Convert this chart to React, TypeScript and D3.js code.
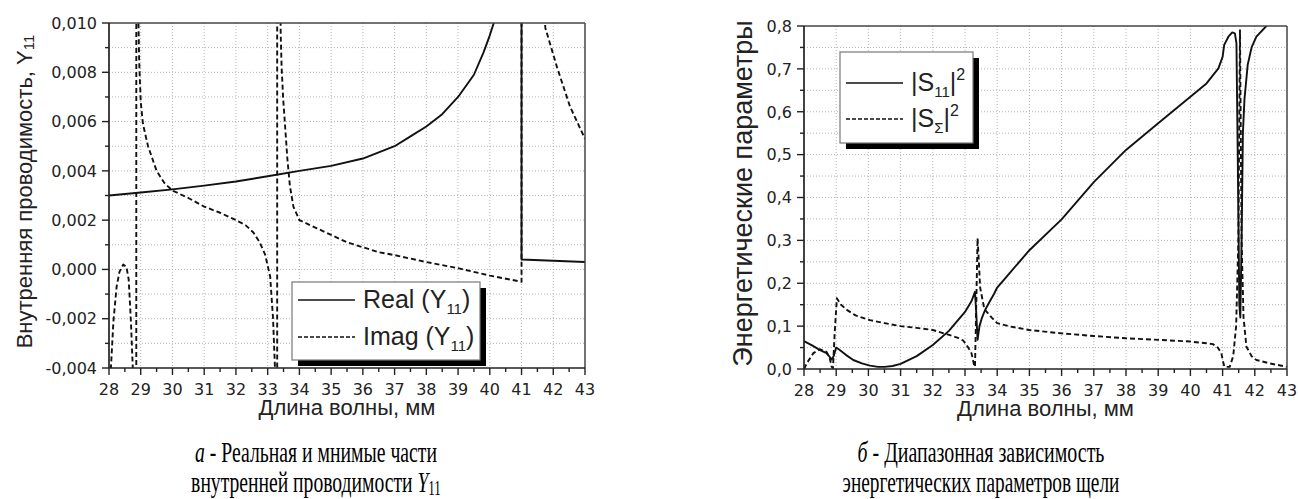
import React, { useEffect, useRef } from 'react';
import * as d3 from 'd3';

const W = 1298;
const H = 499;

// wavelength ticks, mm
const xTickValues = [28, 29, 30, 31, 32, 33, 34, 35, 36, 37, 38, 39, 40, 41, 42, 43];

// chart a: internal admittance Y11
const yTicksA = [-0.004, -0.002, 0, 0.002, 0.004, 0.006, 0.008, 0.01];
const realY11: [number, number][] = [
  [28, 0.003], [29, 0.00312], [30, 0.00325], [31, 0.0034], [32, 0.00357], [33, 0.00378],
  [34, 0.004], [35, 0.0042], [36, 0.0045], [37, 0.005], [37.5, 0.0054], [38, 0.0058],
  [38.5, 0.0063], [39, 0.007], [39.5, 0.0079], [39.8, 0.0088], [40, 0.0095], [40.2, 0.0103],
  [40.4, 0.0125], [41, 0.03], [41, 0.0004], [42, 0.00035], [43, 0.0003]
];
const imagY11: [number, number][] = [
  [28, -0.006], [28.06, -0.004], [28.14, -0.0021], [28.24, -0.0007], [28.33, -0.0001],
  [28.45, 0.0002], [28.55, 0.0001], [28.62, -0.0004], [28.69, -0.0021], [28.75, -0.004],
  [28.82, -0.008], [28.86, -0.03], [28.86, 0.03], [28.9, 0.012], [28.95, 0.0085],
  [29, 0.0068], [29.07, 0.0059], [29.23, 0.005], [29.5, 0.004], [29.75, 0.0035],
  [30, 0.0032], [30.5, 0.0029], [31, 0.00255], [31.5, 0.0023], [32, 0.002], [32.3, 0.0018],
  [32.55, 0.0015], [32.75, 0.0011], [32.92, 0.0006], [33.08, -0.0003], [33.17, -0.002],
  [33.23, -0.004], [33.28, -0.008], [33.3, -0.03], [33.3, 0.03], [33.38, 0.015],
  [33.41, 0.0096], [33.44, 0.0082], [33.49, 0.0069], [33.55, 0.0058], [33.62, 0.0045],
  [33.7, 0.0034], [33.81, 0.00255], [34, 0.002], [34.5, 0.0017], [35, 0.0014],
  [35.5, 0.0011], [36, 0.0009], [36.5, 0.0007], [37, 0.00058], [38, 0.0003],
  [39, 0.00005], [40, -0.00025], [41, -0.0005], [41, 0.03], [41.5, 0.015],
  [41.75, 0.0098], [42.12, 0.0082], [42.53, 0.0066], [43, 0.0053]
];

// chart b: energy parameters
const yTicksB = [0, 0.1, 0.2, 0.3, 0.4, 0.5, 0.6, 0.7, 0.8];
const s11: [number, number][] = [
  [28, 0.065], [28.25, 0.055], [28.5, 0.044], [28.7, 0.037], [28.8, 0.028], [28.86, 0.022],
  [28.92, 0.03], [29, 0.05], [29.1, 0.045], [29.3, 0.033], [29.53, 0.021], [29.8, 0.013],
  [30.05, 0.008], [30.3, 0.005], [30.5, 0.005], [30.75, 0.007], [31, 0.012], [31.5, 0.03],
  [32, 0.056], [32.5, 0.089], [33, 0.133], [33.2, 0.158], [33.31, 0.18], [33.35, 0.13],
  [33.39, 0.068], [33.45, 0.1], [33.52, 0.118], [33.62, 0.137], [33.75, 0.155], [33.9, 0.175],
  [34, 0.19], [34.4, 0.225], [35, 0.277], [36, 0.349], [37, 0.436], [38, 0.511],
  [39, 0.573], [40, 0.635], [40.5, 0.666], [40.87, 0.701], [41, 0.728], [41.05, 0.756],
  [41.18, 0.775], [41.3, 0.785], [41.38, 0.783], [41.43, 0.76], [41.47, 0.5], [41.52, 0.15],
  [41.55, 0.12], [41.59, 0.3], [41.63, 0.55], [41.68, 0.63], [41.78, 0.71], [41.9, 0.75],
  [42.05, 0.775], [42.36, 0.8], [42.7, 0.84]
];
const sSigma: [number, number][] = [
  [28, 0], [28.1, 0.015], [28.29, 0.037], [28.5, 0.046], [28.7, 0.04], [28.8, 0.025],
  [28.86, 0.005], [28.9, 0.002], [28.95, 0.08], [29.02, 0.165], [29.15, 0.15], [29.33, 0.138],
  [29.6, 0.125], [30.05, 0.114], [30.5, 0.107], [31, 0.1], [31.5, 0.096], [32, 0.091],
  [32.53, 0.079], [32.8, 0.072], [32.95, 0.066], [33.1, 0.05], [33.2, 0.037], [33.28, 0.01],
  [33.31, 0.005], [33.35, 0.15], [33.39, 0.305], [33.43, 0.25], [33.47, 0.19], [33.6, 0.14],
  [33.83, 0.12], [34, 0.107], [34.4, 0.099], [35, 0.091], [36, 0.083], [37, 0.077],
  [38, 0.0716], [39, 0.068], [40, 0.064], [40.5, 0.06], [40.7, 0.058], [40.85, 0.05],
  [40.96, 0.037], [41.03, 0.012], [41.06, 0.005], [41.22, 0.005], [41.33, 0.03], [41.42, 0.1],
  [41.49, 0.3], [41.54, 0.79], [41.59, 0.3], [41.65, 0.12], [41.74, 0.052], [41.9, 0.03],
  [42.05, 0.021], [42.47, 0.013], [43, 0.005]
];

const locale = d3.formatLocale({ decimal: ',', thousands: ' ', grouping: [3], currency: ['', ''], minus: '-' });

const TICK_FONT = '"DejaVu Sans", sans-serif';
const TITLE_FONT = '"Liberation Sans", Arial, sans-serif';
const CAPTION_FONT = '"Liberation Serif", "Times New Roman", serif';
const DASH = '5,3';

function drawPanel(svg, p) {
  const x = d3.scaleLinear().domain([28, 43]).range([p.left, p.right]);
  const y = d3.scaleLinear().domain([p.yTicks[0], p.yTicks[p.yTicks.length - 1]]).range([p.bottom, p.top]);
  const g = svg.append('g');
  const fmt = locale.format(p.fmt);

  // minor steps for grid / ticks
  const yStep = (p.yTicks[1] - p.yTicks[0]) / 2;
  const yMinor = d3.range(p.yTicks.length * 2 - 1).map(i => p.yTicks[0] + i * yStep);
  const xMinor = d3.range(xTickValues.length * 2 - 1).map(i => 28 + i * 0.5);

  // grid
  g.append('g').selectAll('line').data(xTickValues.slice(1, -1)).join('line')
    .attr('x1', d => x(d)).attr('x2', d => x(d)).attr('y1', p.top).attr('y2', p.bottom)
    .attr('stroke', '#b4b4b4').attr('stroke-dasharray', '1,2').attr('stroke-width', 1);
  g.append('g').selectAll('line').data(yMinor.slice(1, -1)).join('line')
    .attr('x1', p.left).attr('x2', p.right).attr('y1', d => y(d)).attr('y2', d => y(d))
    .attr('stroke', '#b4b4b4').attr('stroke-dasharray', '1,2').attr('stroke-width', 1);

  // curves
  const clipId = 'clip-' + p.id;
  svg.append('defs').append('clipPath').attr('id', clipId)
    .append('rect').attr('x', p.left).attr('y', p.top).attr('width', p.right - p.left).attr('height', p.bottom - p.top);
  const line = d3.line().x(d => x(d[0])).y(d => y(d[1]));
  const curves = g.append('g').attr('clip-path', `url(#${clipId})`);
  p.series.forEach(s => {
    curves.append('path').attr('d', line(s.data)).attr('fill', 'none')
      .attr('stroke', '#111').attr('stroke-width', 1.9)
      .attr('stroke-dasharray', s.dashed ? DASH : null)
      .attr('stroke-linejoin', 'round');
  });

  // frame top / right
  g.append('line').attr('x1', p.left).attr('x2', p.right).attr('y1', p.top).attr('y2', p.top)
    .attr('stroke', '#444').attr('stroke-width', 1.5);
  g.append('line').attr('x1', p.right).attr('x2', p.right).attr('y1', p.top).attr('y2', p.bottom)
    .attr('stroke', '#444').attr('stroke-width', 1.5);

  // axes
  g.append('line').attr('x1', p.left).attr('x2', p.right).attr('y1', p.bottom).attr('y2', p.bottom)
    .attr('stroke', '#222').attr('stroke-width', 1.7);
  g.append('line').attr('x1', p.left).attr('x2', p.left).attr('y1', p.top).attr('y2', p.bottom)
    .attr('stroke', '#222').attr('stroke-width', 1.7);

  g.append('g').selectAll('line').data(xMinor).join('line')
    .attr('x1', d => x(d)).attr('x2', d => x(d)).attr('y1', p.bottom)
    .attr('y2', (d, i) => p.bottom + (i % 2 === 0 ? 7 : 4))
    .attr('stroke', '#222').attr('stroke-width', 1.4);
  g.append('g').selectAll('line').data(yMinor).join('line')
    .attr('y1', d => y(d)).attr('y2', d => y(d)).attr('x1', p.left)
    .attr('x2', (d, i) => p.left - (i % 2 === 0 ? 7 : 4))
    .attr('stroke', '#222').attr('stroke-width', 1.4);

  g.append('g').selectAll('text').data(xTickValues).join('text')
    .attr('x', d => x(d)).attr('y', p.bottom + 27).attr('text-anchor', 'middle')
    .attr('font-family', TICK_FONT).attr('font-size', 16).attr('fill', '#222')
    .text(d => d);
  g.append('g').selectAll('text').data(p.yTicks).join('text')
    .attr('x', p.left - 12).attr('y', d => y(d)).attr('dy', '0.36em').attr('text-anchor', 'end')
    .attr('font-family', TICK_FONT).attr('font-size', 16).attr('fill', '#222')
    .text(d => fmt(d));

  // axis titles
  g.append('text').attr('x', (p.left + p.right) / 2).attr('y', p.bottom + 47)
    .attr('text-anchor', 'middle').attr('font-family', TITLE_FONT).attr('font-size', 22).attr('fill', '#222')
    .text('Длина волны, мм');
  const yt = g.append('text')
    .attr('transform', `translate(${p.yTitleX},${(p.top + p.bottom) / 2 - 4}) rotate(-90)`)
    .attr('text-anchor', 'middle').attr('font-family', TITLE_FONT).attr('font-size', p.yTitleSize).attr('fill', '#222');
  yt.append('tspan').text(p.yTitle);
  if (p.yTitleSub) yt.append('tspan').attr('font-size', 15).attr('dy', 2).text(p.yTitleSub);

  // legend
  const L = p.legend;
  const lg = g.append('g');
  lg.append('rect').attr('x', L.x + 6).attr('y', L.y + 6).attr('width', L.w).attr('height', L.h).attr('fill', '#000');
  lg.append('rect').attr('x', L.x).attr('y', L.y).attr('width', L.w).attr('height', L.h)
    .attr('fill', '#fff').attr('stroke', '#777').attr('stroke-width', 1.2);
  p.series.forEach((s, i) => {
    const ry = L.y + L.rowY[i];
    lg.append('line').attr('x1', L.x + 6).attr('x2', L.x + 6 + L.sample).attr('y1', ry).attr('y2', ry)
      .attr('stroke', '#111').attr('stroke-width', 1.7).attr('stroke-dasharray', s.dashed ? '4,2' : null);
    const t = lg.append('text').attr('x', L.x + 14 + L.sample).attr('y', ry + 8)
      .attr('font-family', TITLE_FONT).attr('font-size', L.fontSize).attr('fill', '#222');
    s.label.forEach(part => {
      const ts = t.append('tspan').text(part.t);
      if (part.sub) ts.attr('font-size', 15).attr('dy', 6);
      if (part.sup) ts.attr('font-size', 16).attr('dy', -11);
      if (part.back) ts.attr('dy', part.back);
    });
  });
}

const App = () => {
  const svgRef = useRef(null);

  useEffect(() => {
    if (!svgRef.current) return;
    const svg = d3.select(svgRef.current);
    svg.selectAll('*').remove();

    drawPanel(svg, {
      id: 'a', left: 109, right: 585, top: 23, bottom: 368,
      yTicks: yTicksA, fmt: '.3f', yTitleX: 32, yTitleSize: 22,
      yTitle: 'Внутренняя проводимость, Y', yTitleSub: '11',
      series: [
        { data: realY11, dashed: false, label: [{ t: 'Real (Y' }, { t: '11', sub: true }, { t: ')', back: -6 }] },
        { data: imagY11, dashed: true, label: [{ t: 'Imag (Y' }, { t: '11', sub: true }, { t: ')', back: -6 }] }
      ],
      legend: { x: 292, y: 282, w: 188, h: 78, rowY: [18, 55], sample: 57, fontSize: 25 }
    });

    drawPanel(svg, {
      id: 'b', left: 804, right: 1287, top: 26, bottom: 369,
      yTicks: yTicksB, fmt: '.1f', yTitleX: 752, yTitleSize: 27,
      yTitle: 'Энергетические параметры',
      series: [
        { data: s11, dashed: false, label: [{ t: '|S' }, { t: '11', sub: true }, { t: '|', back: -6 }, { t: '2', sup: true }] },
        { data: sSigma, dashed: true, label: [{ t: '|S' }, { t: 'Σ', sub: true }, { t: '|', back: -6 }, { t: '2', sup: true }] }
      ],
      legend: { x: 840, y: 52, w: 133, h: 91, rowY: [31, 67], sample: 57, fontSize: 25 }
    });

    // captions: Times-like, narrowed horizontally to the reference widths
    const cap = (cx, y, width, parts) => {
      const t = svg.append('text').attr('text-anchor', 'middle')
        .attr('font-family', CAPTION_FONT).attr('font-size', 30).attr('fill', '#000');
      parts.forEach(pt => {
        const ts = t.append('tspan').text(pt.t);
        if (pt.i) ts.attr('font-style', 'italic');
        if (pt.sub) ts.attr('font-size', 20).attr('dy', 3);
      });
      const node = t.node();
      const len = node && node.getComputedTextLength ? node.getComputedTextLength() : width;
      const sx = len > 0 ? width / len : 1;
      t.attr('transform', `translate(${cx},${y}) scale(${sx},1)`);
    };
    cap(316, 462, 242, [{ t: 'а', i: true }, { t: ' - Реальная и мнимые части' }]);
    cap(316, 492, 250, [{ t: 'внутренней проводимости ' }, { t: 'Y', i: true }, { t: '11', sub: true }]);
    cap(981, 462, 247, [{ t: 'б', i: true }, { t: ' - Диапазонная зависимость' }]);
    cap(981, 492, 277, [{ t: 'энергетических параметров щели' }]);
  }, []);

  return (
    <div style={{ position: 'absolute', left: 0, top: 0, width: W, height: H, background: '#fff' }}>
      <svg ref={svgRef} width={W} height={H}></svg>
    </div>
  );
};

export default App;
